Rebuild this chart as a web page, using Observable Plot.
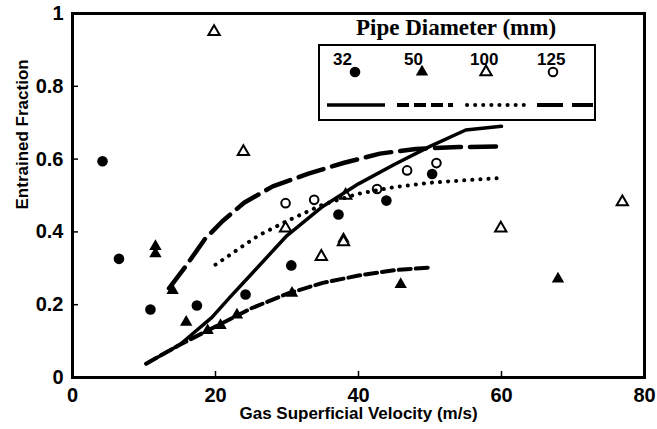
<!DOCTYPE html>
<html><head><meta charset="utf-8">
<script src="https://cdn.jsdelivr.net/npm/d3@7"></script>
<script src="https://cdn.jsdelivr.net/npm/@observablehq/plot@0.6"></script>
<style>body{margin:0;background:#fff}#chart{width:657px;height:429px}</style>
</head><body><div id="chart"></div>
<script>
// Pipe diameters (mm)
const diameters = ["32", "50", "100", "125"];
// Measured points [velocity m/s, entrained fraction]
const pts32 = [[4.2,0.594],[6.5,0.326],[10.9,0.187],[17.4,0.198],[24.2,0.228],[30.6,0.308],[37.2,0.448],[43.9,0.486],[50.3,0.559]];
const pts50 = [[11.6,0.36],[11.6,0.34],[14.0,0.239],[15.9,0.152],[18.9,0.129],[20.7,0.143],[23.0,0.172],[30.7,0.232],[37.9,0.381],[45.9,0.256],[67.9,0.271]];
const pts100 = [[19.8,0.95],[23.9,0.62],[29.8,0.41],[34.8,0.332],[37.9,0.372],[38.2,0.50],[59.9,0.41],[76.9,0.482]];
const pts125 = [[29.8,0.479],[33.8,0.488],[42.6,0.518],[46.8,0.569],[50.9,0.589]];
// Correlation curves
const curve32 = [[10.3,0.038],[15,0.09],[19.5,0.165],[22,0.22],[26,0.305],[30,0.39],[35,0.47],[40,0.532],[45,0.585],[50,0.635],[55,0.68],[60,0.69]];
const curve50 = [[10.3,0.038],[15,0.09],[20,0.14],[25,0.19],[30,0.23],[35,0.26],[40,0.28],[45,0.295],[50,0.302]];
const curve100 = [[20,0.31],[23,0.35],[26,0.39],[30,0.43],[35,0.475],[40,0.505],[45,0.523],[50,0.535],[55,0.542],[60,0.548]];
const curve125 = [[13.5,0.245],[16,0.31],[18.5,0.38],[21,0.43],[24,0.48],[28,0.525],[33,0.56],[38,0.59],[43,0.615],[48,0.628],[54,0.633],[60,0.635]];
const xTicks = [0, 20, 40, 60, 80];
const yTicks = [0, 0.2, 0.4, 0.6, 0.8, 1];
const xInner = [20, 40, 60];
const yInner = [0.2, 0.4, 0.6, 0.8];

const toObj = a => a.map(([v, f]) => ({v, f}));
const sans = "'Liberation Sans', Arial, Helvetica, sans-serif";
const W = 657, H = 429, mL = 72, mR = 13, mT = 13, mB = 52;
const tick = 6;
const dashes = [null, "12,5", "0.1,8", "26,9"];

const plot = Plot.plot({
  width: W, height: H,
  marginLeft: mL, marginRight: mR, marginTop: mT, marginBottom: mB,
  x: {domain: [0, 80]},
  y: {domain: [0, 1]},
  style: {fontFamily: sans, fontWeight: "bold", background: "#fff", color: "#000"},
  marks: [
    Plot.dot(toObj(pts32), {x: "v", y: "f", symbol: "circle", fill: "#000", r: 5.3}),
    Plot.dot(toObj(pts50), {x: "v", y: "f", symbol: "triangle", fill: "#000", r: 4.6}),
    Plot.dot(toObj(pts100), {x: "v", y: "f", symbol: "triangle", fill: "#fff", stroke: "#000", strokeWidth: 2, r: 4.2}),
    Plot.dot(toObj(pts125), {x: "v", y: "f", symbol: "circle", fill: "#fff", stroke: "#000", strokeWidth: 2, r: 4.3}),
    Plot.line(toObj(curve32), {x: "v", y: "f", stroke: "#000", strokeWidth: 3.5}),
    Plot.line(toObj(curve50), {x: "v", y: "f", stroke: "#000", strokeWidth: 4, strokeDasharray: dashes[1]}),
    Plot.line(toObj(curve100), {x: "v", y: "f", stroke: "#000", strokeWidth: 4, strokeDasharray: dashes[2], strokeLinecap: "round"}),
    Plot.line(toObj(curve125), {x: "v", y: "f", stroke: "#000", strokeWidth: 4.5, strokeDasharray: dashes[3]}),
    Plot.ruleX(xInner, {x: d => d, insetTop: H - mT - mB - tick, stroke: "#000", strokeWidth: 1.5}),
    Plot.ruleY(yInner, {y: d => d, insetRight: W - mL - mR - tick, stroke: "#000", strokeWidth: 1.5}),
    Plot.frame({stroke: "#000", strokeWidth: 3}),
    Plot.axisX({ticks: xTicks, tickSize: 0, tickPadding: 10, tickFormat: d => String(d), label: null, fontSize: 20, fontWeight: "bold"}),
    Plot.axisY({ticks: yTicks, tickSize: 0, tickPadding: 9, tickFormat: d => String(d), label: null, fontSize: 20, fontWeight: "bold"}),
    Plot.text(["Gas Superficial Velocity (m/s)"], {frameAnchor: "bottom", dy: 41, fontSize: 17, fontWeight: "bold", fill: "#000"}),
    Plot.text(["Entrained Fraction"], {frameAnchor: "left", dx: -50, dy: 14, rotate: -90, fontSize: 17, fontWeight: "bold", fill: "#000"})
  ]
});
document.getElementById("chart").appendChild(plot);

// Legend (layout overlay)
const svg = d3.select(plot);
const g = svg.append("g").attr("class", "legend");
g.append("text").attr("x", 456).attr("y", 35).attr("text-anchor", "middle")
  .attr("font-family", "'Liberation Serif', 'Times New Roman', serif").attr("font-weight", "bold").attr("font-size", 23)
  .text("Pipe Diameter (mm)");
g.append("rect").attr("x", 319).attr("y", 45).attr("width", 276).attr("height", 75)
  .attr("fill", "#fff").attr("stroke", "#000").attr("stroke-width", 2);
const labelX = [333, 404, 470, 537];
const markX = [355, 422, 486, 553];
const lineX = [[327, 385], [397, 453], [467, 524], [537, 593]];
const symbols = [
  {type: d3.symbolCircle, fill: "#000", stroke: "none", r: 5.3},
  {type: d3.symbolTriangle, fill: "#000", stroke: "none", r: 4.6},
  {type: d3.symbolTriangle, fill: "#fff", stroke: "#000", r: 4.2},
  {type: d3.symbolCircle, fill: "#fff", stroke: "#000", r: 4.3}
];
diameters.forEach((d, i) => {
  g.append("text").attr("x", labelX[i]).attr("y", 65).attr("text-anchor", "start")
    .attr("font-family", sans).attr("font-weight", "bold").attr("font-size", 17).text(d);
  const s = symbols[i];
  g.append("path").attr("transform", `translate(${markX[i]},72)`)
    .attr("d", d3.symbol(s.type, Math.PI * s.r * s.r)())
    .attr("fill", s.fill).attr("stroke", s.stroke).attr("stroke-width", 2);
  g.append("line").attr("x1", lineX[i][0]).attr("x2", lineX[i][1]).attr("y1", 105).attr("y2", 105)
    .attr("stroke", "#000").attr("stroke-width", i === 0 ? 3.5 : 4)
    .attr("stroke-dasharray", dashes[i]).attr("stroke-linecap", i === 2 ? "round" : null);
});
</script>
</body></html>
